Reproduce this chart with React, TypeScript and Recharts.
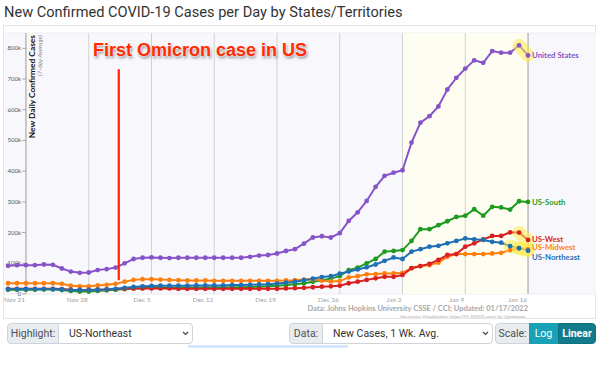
import React from "react";
import {
  LineChart,
  Line,
  XAxis,
  YAxis,
  CartesianGrid,
  ReferenceLine,
  ReferenceArea,
  LabelList,
} from "recharts";

// one point per day, 7-day average of new cases (thousands)
const dates = [
  "Nov 19", "Nov 20", "Nov 21", "Nov 22", "Nov 23", "Nov 24", "Nov 25", "Nov 26", "Nov 27", "Nov 28",
  "Nov 29", "Nov 30", "Dec 1", "Dec 2", "Dec 3", "Dec 4", "Dec 5", "Dec 6", "Dec 7", "Dec 8",
  "Dec 9", "Dec 10", "Dec 11", "Dec 12", "Dec 13", "Dec 14", "Dec 15", "Dec 16", "Dec 17", "Dec 18",
  "Dec 19", "Dec 20", "Dec 21", "Dec 22", "Dec 23", "Dec 24", "Dec 25", "Dec 26", "Dec 27", "Dec 28",
  "Dec 29", "Dec 30", "Dec 31", "Jan 1", "Jan 2", "Jan 3", "Jan 4", "Jan 5", "Jan 6", "Jan 7",
  "Jan 8", "Jan 9", "Jan 10", "Jan 11", "Jan 12", "Jan 13", "Jan 14", "Jan 15", "Jan 16",
];

const unitedStates = [
  92, 94, 94, 94, 96, 95, 83, 73, 69, 70,
  78, 81, 86, 100, 114, 118, 119, 118, 117, 118,
  118, 118, 118, 118, 118, 118, 118, 121, 125, 127,
  132, 140, 146, 164, 184, 188, 184, 198, 238, 266,
  303, 349, 385, 395, 403, 493, 558, 579, 611, 666,
  704, 734, 761, 753, 791, 786, 786, 810, 777,
];

const usSouth = [
  14, 14, 14, 14, 15, 15, 13, 10, 8, 8,
  10, 12, 14, 16, 18, 19, 20, 20, 20, 20,
  20, 20, 21, 21, 21, 22, 22, 23, 24, 25,
  27, 29, 32, 35, 40, 45, 50, 58, 78, 86,
  100, 114, 138, 140, 143, 173, 211, 211, 224, 237,
  251, 255, 276, 255, 284, 282, 275, 302, 300,
];

const usWest = [
  17, 17, 17, 17, 17, 17, 16, 14, 13, 13,
  14, 15, 16, 17, 18, 18, 18, 18, 18, 17,
  17, 17, 17, 17, 17, 17, 17, 17, 17, 17,
  17, 18, 19, 20, 22, 24, 25, 27, 35, 40,
  46, 51, 56, 56, 62, 84, 91, 98, 111, 127,
  130, 154, 165, 178, 189, 189, 201, 200, 176,
];

const usMidwest = [
  35, 35, 35, 35, 35, 35, 33, 27, 25, 25,
  28, 30, 33, 40, 46, 48, 48, 47, 46, 45,
  44, 44, 44, 43, 43, 43, 43, 43, 43, 43,
  43, 44, 45, 47, 48, 44, 41, 42, 54, 58,
  64, 65, 67, 67, 69, 84, 91, 94, 102, 121,
  130, 130, 130, 130, 132, 134, 143, 149, 145,
];

const usNortheast = [
  16, 16, 16, 16, 16, 16, 15, 13, 13, 13,
  14, 15, 17, 20, 23, 25, 26, 27, 27, 27,
  27, 28, 28, 28, 28, 29, 29, 30, 31, 32,
  34, 37, 40, 45, 50, 55, 58, 66, 73, 80,
  87, 96, 108, 119, 114, 138, 146, 154, 157, 165,
  173, 181, 178, 176, 170, 167, 156, 149, 141,
];

const tickLabels = ["Nov 21", "Nov 28", "Dec 5", "Dec 12", "Dec 19", "Dec 26", "Jan 2", "Jan 9", "Jan 16"];
const yTicks = [0, 100, 200, 300, 400, 500, 600, 700, 800];

const omicronDate = "Dec 1";
const recentFrom = "Jan 2";
const latestDate = "Jan 16";

const series = [
  { key: "us", name: "United States", color: "#8753c8", values: unitedStates, glowFrom: "Jan 15", dy: 0 },
  { key: "south", name: "US-South", color: "#1e9a1e", values: usSouth, glowFrom: null, dy: 0 },
  { key: "midwest", name: "US-Midwest", color: "#ff7f0e", values: usMidwest, glowFrom: "Jan 15", dy: -2 },
  { key: "west", name: "US-West", color: "#d91f1f", values: usWest, glowFrom: "Jan 15", dy: -1 },
  { key: "northeast", name: "US-Northeast", color: "#1f6fb4", values: usNortheast, glowFrom: "Jan 14", dy: 6 },
];

const dayOf = (d: string) => dates.indexOf(d);

const table = dates.map((date, i) => {
  const row: any = { day: i, date };
  series.forEach((s) => {
    row[s.key] = s.values[i];
    if (s.glowFrom && i >= dayOf(s.glowFrom)) row[s.key + "Glow"] = s.values[i];
  });
  return row;
});

const tickDays = tickLabels.map(dayOf);
const font = "Lato, 'Open Sans', sans-serif";
const axisX = 26;

const XTick = ({ x, y, payload }: any) => (
  <text x={x - 1} y={y} dy={7.5} textAnchor="end" fontSize={6.5} fill="#a0a0a0" fontFamily={font}>
    {dates[payload.value]}
  </text>
);

const YTickLabel = ({ viewBox, value }: any) => {
  const y = viewBox.y;
  return (
    <g>
      <line x1={axisX - 4} x2={axisX} y1={y} y2={y} stroke="#999" strokeWidth={0.8} />
      <text x={axisX - 5} y={y} dy={2} textAnchor="end" fontSize={6} fill="#555" fontFamily={font}>
        {value === 0 ? "0" : `${value}k`}
      </text>
    </g>
  );
};

const endLabel = (s: any) => (props: any) => {
  const { x, y, index } = props;
  if (index !== dates.length - 1) return null;
  return (
    <text x={x + 4} y={y + s.dy} dy={3} fill={s.color} fontSize={7.8} fontWeight={700} fontFamily={font}>
      {s.name}
    </text>
  );
};

const box: any = {
  position: "absolute",
  top: 323,
  height: 21,
  boxSizing: "border-box",
  border: "1px solid #ced4da",
  fontFamily: "Roboto, sans-serif",
  fontSize: 10.5,
  color: "#495057",
  display: "flex",
  alignItems: "center",
  whiteSpace: "nowrap",
};

const label: any = { ...box, background: "#e9ecef", borderRadius: "4px 0 0 4px", justifyContent: "center" };

const Chevron = ({ left }: any) => (
  <svg style={{ position: "absolute", left, top: 331 }} width="7" height="5">
    <path d="M1 1 L3.5 3.5 L6 1" fill="none" stroke="#444" strokeWidth="1.2" />
  </svg>
);

export default function App() {
  return (
    <div style={{ position: "absolute", left: 0, top: 0, width: 600, height: 386, background: "#fff", overflow: "hidden" }}>
      <div style={{ position: "absolute", left: 4, top: 3, fontFamily: "Roboto, sans-serif", fontSize: 14.6, color: "#333", whiteSpace: "nowrap" }}>
        New Confirmed COVID-19 Cases per Day by States/Territories
      </div>
      <div style={{ position: "absolute", left: 3, top: 25, width: 593, height: 294, border: "1px solid #e6e6e6", boxSizing: "border-box" }} />
      <div style={{ position: "absolute", left: 0, top: 0 }}>
        <LineChart width={600} height={320} data={table} margin={{ top: 33, right: 4, left: 4, bottom: 6 }}>
          <CartesianGrid vertical={false} stroke="#ececf2" fill="#f8f8fc" />
          <ReferenceArea x1={dayOf(recentFrom)} x2={dayOf(latestDate)} fill="#fdfdf1" fillOpacity={1} stroke="none" />
          {tickDays.map((d, i) => (
            <ReferenceLine
              key={d}
              x={d}
              stroke={i === 0 || i === tickDays.length - 1 ? "#9a9a9a" : "#d2d2d2"}
              strokeWidth={1}
            />
          ))}
          {yTicks.map((v) => (
            <ReferenceLine key={"y" + v} y={v} strokeOpacity={0} label={<YTickLabel value={v} />} />
          ))}
          <XAxis
            dataKey="day"
            type="number"
            domain={[-0.45, 65.58]}
            ticks={tickDays}
            tick={<XTick />}
            axisLine={false}
            tickLine={false}
            tickSize={0}
            tickMargin={0}
            height={20}
            interval={0}
          />
          <YAxis domain={[0, 850]} ticks={yTicks} width={0} tick={false} axisLine={false} tickLine={false} />
          {series.map((s) => (
            <Line
              key={s.key}
              dataKey={s.key}
              type="linear"
              stroke={s.color}
              strokeWidth={2}
              dot={{ r: 2.4, fill: s.color, stroke: s.color, strokeWidth: 0 }}
              activeDot={false}
              isAnimationActive={false}
            >
              <LabelList dataKey={s.key} content={endLabel(s)} />
            </Line>
          ))}
          {series
            .filter((s) => s.glowFrom)
            .map((s) => (
              <Line
                key={s.key + "Glow"}
                dataKey={s.key + "Glow"}
                type="linear"
                stroke="#ffe94a"
                strokeOpacity={0.55}
                strokeWidth={13}
                strokeLinecap="round"
                dot={false}
                activeDot={false}
                isAnimationActive={false}
              />
            ))}
          <ReferenceLine
            segment={[
              { x: dayOf(omicronDate) + 0.35, y: 45 },
              { x: dayOf(omicronDate) + 0.35, y: 732 },
            ]}
            stroke="#ff2200"
            strokeWidth={2.2}
          />
        </LineChart>
      </div>

      {/* axis title */}
      <svg style={{ position: "absolute", left: 0, top: 0 }} width="60" height="160">
        <text x={35} y={35} transform="rotate(-90 35 35)" textAnchor="end" fontSize={8.4} fontWeight={700} fill="#111" fontFamily={font}>
          New Daily Confirmed Cases
        </text>
        <text x={42} y={35} transform="rotate(-90 42 35)" textAnchor="end" fontSize={6.4} fontStyle="italic" fill="#888" fontFamily={font}>
          (7-day Average)
        </text>
      </svg>

      <div
        style={{
          position: "absolute",
          left: 93,
          top: 40,
          fontFamily: "'Liberation Sans', Arial, sans-serif",
          fontWeight: 700,
          fontSize: 18,
          color: "#ff2a00",
          whiteSpace: "nowrap",
          textShadow: "0 0 2px #fff, 0 0 2px #fff, 1px 2px 3px rgba(0,0,0,0.5)",
        }}
      >
        First Omicron case in US
      </div>

      <div style={{ position: "absolute", right: 72, top: 304, fontFamily: font, fontWeight: 700, fontSize: 7.5, color: "#a8a8a8", whiteSpace: "nowrap" }}>
        Data: Johns Hopkins University CSSE / CCI; Updated: 01/17/2022
      </div>
      <div style={{ position: "absolute", right: 72, top: 314, fontFamily: font, fontSize: 4.5, color: "#aaa", whiteSpace: "nowrap" }}>
        Interactive Visualization: https://91-DIVOC.com/ by @profwade_
      </div>

      <div style={{ ...label, left: 7, width: 52 }}>Highlight:</div>
      <div style={{ ...box, left: 58, width: 135, background: "#fff", borderRadius: "0 4px 4px 0", paddingLeft: 10, color: "#333" }}>US-Northeast</div>
      <Chevron left={182} />
      <div style={{ position: "absolute", left: 188, top: 345, width: 160, height: 3, background: "#d6e6fb" }} />

      <div style={{ ...label, left: 289, width: 34 }}>Data:</div>
      <div style={{ ...box, left: 322, width: 171, background: "#fff", borderRadius: "0 4px 4px 0", paddingLeft: 10, color: "#333" }}>New Cases, 1 Wk. Avg.</div>
      <Chevron left={482} />

      <div style={{ ...label, left: 495, width: 35 }}>Scale:</div>
      <div style={{ ...box, left: 529, width: 29, background: "#17a2b8", color: "#fff", border: "1px solid #17a2b8", justifyContent: "center" }}>Log</div>
      <div style={{ ...box, left: 558, width: 38, background: "#117a8b", color: "#fff", border: "1px solid #10707f", borderRadius: "0 4px 4px 0", justifyContent: "center", fontWeight: 700 }}>Linear</div>
    </div>
  );
}
